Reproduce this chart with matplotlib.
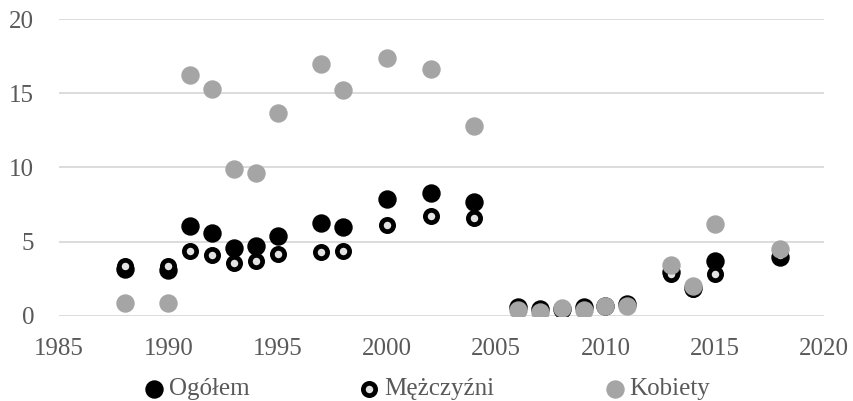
import matplotlib.pyplot as plt

years = [1988, 1990, 1991, 1992, 1993, 1994, 1995, 1997, 1998, 2000, 2002, 2004,
         2006, 2007, 2008, 2009, 2010, 2011, 2013, 2014, 2015, 2018]
ogolem = [3.15, 3.1, 6.05, 5.6, 4.6, 4.7, 5.4, 6.25, 6.0, 7.9, 8.3, 7.7,
          0.6, 0.5, 0.45, 0.6, 0.7, 0.8, 2.95, 1.9, 3.7, 4.0]
mezczyzni = [3.4, 3.35, 4.35, 4.1, 3.6, 3.7, 4.15, 4.3, 4.4, 6.1, 6.7, 6.6,
             0.5, 0.4, 0.4, 0.5, 0.65, 0.75, 2.8, 1.85, 2.8, 4.1]
kobiety = [0.9, 0.9, 16.2, 15.3, 9.9, 9.6, 13.7, 17.0, 15.2, 17.4, 16.6, 12.8,
           0.4, 0.3, 0.55, 0.4, 0.65, 0.7, 3.45, 2.0, 6.2, 4.5]

plt.rcParams['font.family'] = ['Liberation Serif', 'DejaVu Serif']

fig = plt.figure(figsize=(8.54, 4.01), dpi=100)
ax = fig.add_axes([0.0691, 0.212, 0.8958, 0.7406])

ax.scatter(years, ogolem, s=150, color='black', label='Ogółem', zorder=3)
ax.scatter(years, mezczyzni, s=78, facecolor='#e3e3e3', edgecolor='black',
           linewidth=3.4, label='Mężczyźni', zorder=4)
ax.scatter(years, kobiety, s=150, color='#a5a5a5', label='Kobiety', zorder=5)

ax.set_xlim(1985, 2020)
ax.set_ylim(0, 20)
ax.set_xticks(range(1985, 2021, 5))
ax.set_yticks(range(0, 21, 5))
ax.grid(axis='y', color='#d9d9d9', linewidth=1.3)
ax.set_axisbelow(True)
for s in ax.spines.values():
    s.set_visible(False)
ax.tick_params(length=0, labelsize=18, colors='#595959')
ax.tick_params(axis='x', pad=16)
ax.tick_params(axis='y', pad=18)

fig.legend(*ax.get_legend_handles_labels(), loc='center', bbox_to_anchor=(0.5, 0.03),
           ncol=3, frameon=False, fontsize=18, handlelength=0.8, handletextpad=0.2,
           columnspacing=4.4, labelcolor='#595959', borderpad=0)

fig.savefig('out.png', dpi=100)
